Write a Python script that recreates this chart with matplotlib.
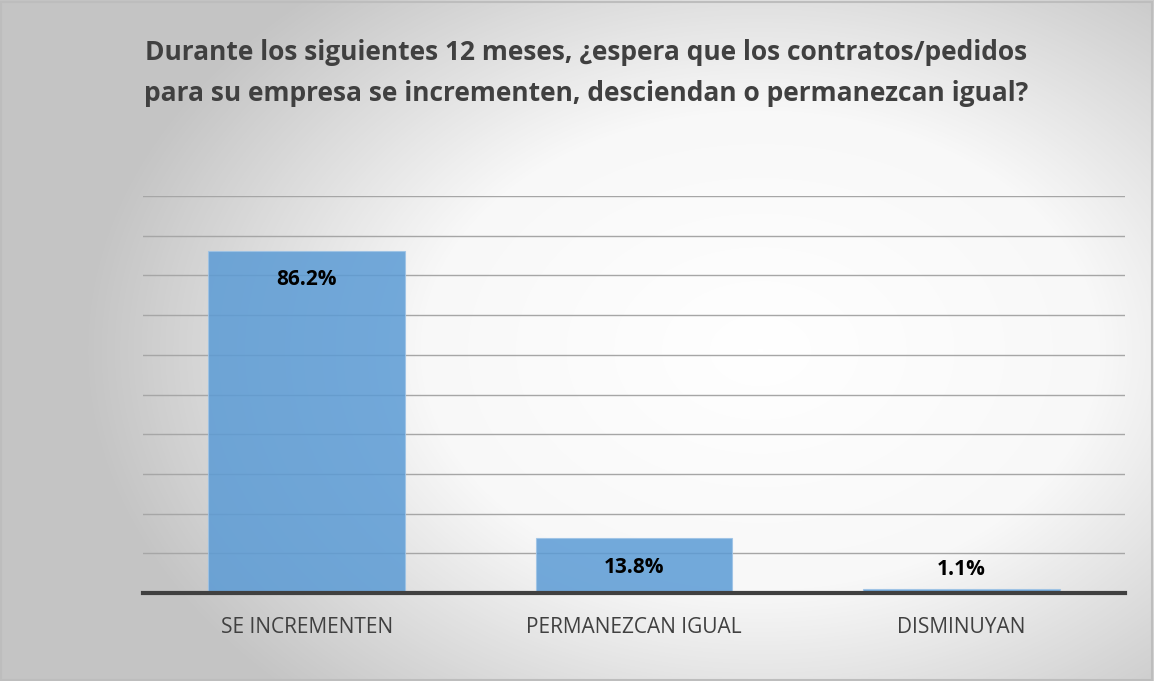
import numpy as np
import matplotlib
matplotlib.use("Agg")
import matplotlib.pyplot as plt
from matplotlib.colors import LinearSegmentedColormap

categories = ["SE INCREMENTEN", "PERMANEZCAN IGUAL", "DISMINUYAN"]
values = [86.2, 13.8, 1.1]
labels = ["86.2%", "13.8%", "1.1%"]
title = ("Durante los siguientes 12 meses, ¿espera que los contratos/pedidos\n"
         "para su empresa se incrementen, desciendan o permanezcan igual?")

plt.rcParams['font.family'] = ['Open Sans', 'DejaVu Sans']

fig = plt.figure(figsize=(11.54, 6.81), dpi=100)

# radial gradient background
bg = fig.add_axes([0, 0, 1, 1], zorder=-10)
h, w = 681, 1154
yy, xx = np.mgrid[0:h, 0:w]
r = np.sqrt(((xx - 760) / 680.0) ** 2 + ((yy - 350) / 480.0) ** 2)
r = np.clip(r, 0, 1)
cmap = LinearSegmentedColormap.from_list("bg", ["#ffffff", "#f8f8f8", "#c4c4c4"])
bg.imshow(r, cmap=cmap, vmin=0, vmax=1, aspect="auto", extent=[0, 1, 0, 1], origin="upper")
bg.set_xlim(0, 1)
bg.set_ylim(0, 1)
bg.axis("off")
bg.add_patch(plt.Rectangle((0.001, 0.002), 0.997, 0.995, fill=False,
                           edgecolor="#bdbdbd", linewidth=1.5))

ax = fig.add_axes([0.1239, 0.1292, 0.851, 0.583])
ax.patch.set_alpha(0)
x = np.arange(len(categories))
bars = ax.bar(x, values, width=0.6, color="#5b9bd5", alpha=0.85,
              edgecolor="#9dc3e6", linewidth=0.8, zorder=3)

ax.set_xlim(-0.5, 2.5)
ax.set_ylim(0, 100)
ax.set_yticks(np.arange(10, 101, 10))
ax.yaxis.grid(True, color="#a6a6a6", linewidth=1, zorder=0)
ax.tick_params(axis="y", left=False, labelleft=False)
ax.tick_params(axis="x", bottom=False, labelsize=15, labelcolor="#404040", pad=14)
ax.set_xticks(x)
ax.set_xticklabels(categories)
for s in ["left", "right", "top"]:
    ax.spines[s].set_visible(False)
ax.spines["bottom"].set_color("#404040")
ax.spines["bottom"].set_linewidth(3)
ax.spines["bottom"].set_zorder(5)

for i, (v, lab) in enumerate(zip(values, labels)):
    if v > 5:
        ax.text(i, v - 7.3, lab, ha="center", va="center", fontsize=15,
                fontweight="bold", color="black", zorder=6)
    else:
        ax.text(i, v + 4.7, lab, ha="center", va="center", fontsize=15,
                fontweight="bold", color="black", zorder=6)

fig.text(0.508, 0.893, title, ha="center", va="center", fontsize=19,
         fontweight="bold", color="#404040", linespacing=1.68)

fig.savefig("out.png", dpi=100)
